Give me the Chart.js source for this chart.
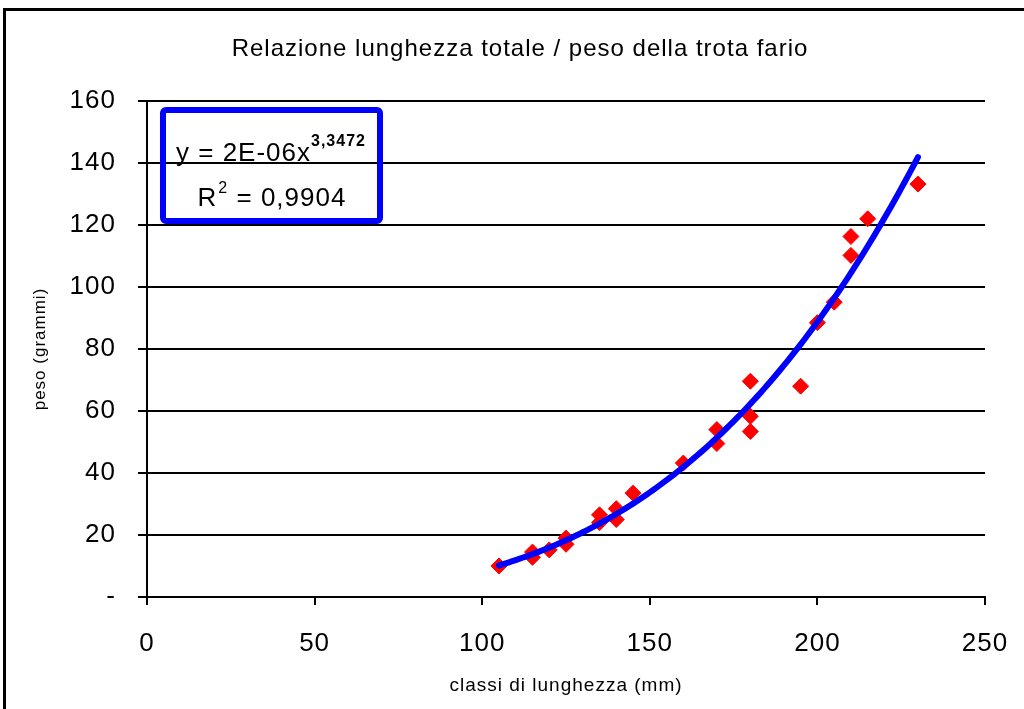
<!DOCTYPE html>
<html>
<head>
<meta charset="utf-8">
<script src="https://cdn.jsdelivr.net/npm/chart.js@4.4.1/dist/chart.umd.min.js"></script>
<style>
  html, body { margin: 0; padding: 0; background: #ffffff; }
  #wrap { position: relative; width: 1024px; height: 709px; overflow: hidden; }
  canvas { display: block; }
</style>
</head>
<body>
<div id="wrap"><canvas id="c" width="1024" height="709"></canvas></div>
<script>
// ---- Data ----
const chartTitle = 'Relazione lunghezza totale / peso della trota fario';
const xAxisTitle = 'classi di lunghezza (mm)';
const yAxisTitle = 'peso (grammi)';

const lengthsMm = [105, 115, 115, 120, 125, 125, 135, 135, 140, 140, 145, 160,
                   170, 170, 180, 180, 180, 195, 200, 205, 210, 210, 215, 230];
const weightsG  = [10, 14.5, 12.8, 15.2, 19, 17, 26.5, 24, 28.5, 25, 33.5, 43.2,
                   54, 49.5, 69.6, 58.3, 53.4, 68, 88.5, 95.1, 110.2, 116.3, 122, 133.2];

const xTickValues = [0, 50, 100, 150, 200, 250];
const yTickValues = [0, 20, 40, 60, 80, 100, 120, 140, 160];
const yZeroLabel = '-';

const equationMain = 'y = 2E-06x';
const equationExponent = '3,3472';
const rSquaredLabel = 'R';
const rSquaredExponent = '2';
const rSquaredValue = ' = 0,9904';

// ---- Power trendline (least squares on ln x / ln y, as the spreadsheet does) ----
function powerFit(xs, ys) {
  const n = xs.length;
  let sx = 0, sy = 0, sxx = 0, sxy = 0;
  for (let i = 0; i < n; i++) {
    const lx = Math.log(xs[i]), ly = Math.log(ys[i]);
    sx += lx; sy += ly; sxx += lx * lx; sxy += lx * ly;
  }
  const b = (n * sxy - sx * sy) / (n * sxx - sx * sx);
  const a = Math.exp((sy - b * sx) / n);
  return { a, b };
}
const fit = powerFit(lengthsMm, weightsG);
const xMin = Math.min(...lengthsMm), xMax = Math.max(...lengthsMm);
const trendPoints = [];
for (let x = xMin; x <= xMax; x += 1) trendPoints.push({ x, y: fit.a * Math.pow(x, fit.b) });

const scatterPoints = lengthsMm.map((x, i) => ({ x, y: weightsG[i] }));

const FONT = "'Liberation Sans', Arial, Helvetica, sans-serif";
Chart.defaults.font.family = FONT;
Chart.defaults.color = '#000000';

const spacingPlugin = {
  id: 'spacing',
  beforeLayout(chart) { chart.ctx.letterSpacing = '1px'; },
  beforeDraw(chart) { chart.ctx.letterSpacing = '1px'; }
};

const decorPlugin = {
  id: 'decor',
  afterDatasetsDraw(chart) {
    const ctx = chart.ctx;
    const ca = chart.chartArea;
    const bx = ca.left + 16, by = ca.top + 9, bw = 217, bh = 111;
    ctx.save();
    ctx.letterSpacing = '1px';
    ctx.strokeStyle = '#0000FF';
    ctx.lineWidth = 6;
    ctx.beginPath();
    if (ctx.roundRect) ctx.roundRect(bx, by, bw, bh, 3); else ctx.rect(bx, by, bw, bh);
    ctx.stroke();

    ctx.fillStyle = '#000000';
    ctx.textAlign = 'left';
    ctx.textBaseline = 'alphabetic';
    // line 1
    ctx.font = '26px ' + FONT;
    const x1 = bx + 13, y1 = by + 51;
    ctx.fillText(equationMain, x1, y1);
    const w1 = ctx.measureText(equationMain).width;
    ctx.font = 'bold 16px ' + FONT;
    ctx.fillText(equationExponent, x1 + w1, y1 - 15);
    // line 2
    ctx.font = '26px ' + FONT;
    const wR = ctx.measureText(rSquaredLabel).width;
    const wV = ctx.measureText(rSquaredValue).width;
    ctx.font = '16px ' + FONT;
    const wE = ctx.measureText(rSquaredExponent).width;
    const total = wR + wE + wV;
    const x2 = bx + bw / 2 - total / 2, y2 = by + 96;
    ctx.font = '26px ' + FONT;
    ctx.fillText(rSquaredLabel, x2, y2);
    ctx.font = '16px ' + FONT;
    ctx.fillText(rSquaredExponent, x2 + wR + 1, y2 - 13);
    ctx.font = '26px ' + FONT;
    ctx.fillText(rSquaredValue, x2 + wR + wE + 1, y2);
    ctx.restore();
  },
  afterDraw(chart) {
    const ctx = chart.ctx;
    ctx.save();
    ctx.letterSpacing = '1px';
    // chart title
    ctx.fillStyle = '#000000';
    ctx.font = '24px ' + FONT;
    ctx.textAlign = 'center';
    ctx.textBaseline = 'middle';
    ctx.fillText(chartTitle, 520, 49);
    // outer frame of the chart object
    ctx.strokeStyle = '#000000';
    ctx.lineWidth = 3;
    ctx.strokeRect(4.5, 9.5, 1040, 720);
    ctx.restore();
  }
};

new Chart(document.getElementById('c'), {
  type: 'scatter',
  data: {
    datasets: [
      {
        label: 'Potenza',
        data: trendPoints,
        showLine: true,
        borderColor: '#0000FF',
        borderWidth: 6,
        borderCapStyle: 'round',
        borderJoinStyle: 'round',
        pointRadius: 0,
        pointHoverRadius: 0,
        tension: 0,
        fill: false,
        order: 0
      },
      {
        label: 'peso',
        data: scatterPoints,
        showLine: false,
        pointStyle: 'rectRot',
        pointRadius: 8,
        pointHoverRadius: 8,
        backgroundColor: '#FF0000',
        borderColor: '#FF0000',
        borderWidth: 1,
        order: 1
      }
    ]
  },
  options: {
    responsive: false,
    animation: false,
    devicePixelRatio: 1,
    layout: { padding: { top: 101, left: 0, right: 39, bottom: 0 } },
    plugins: {
      legend: { display: false },
      tooltip: { enabled: false },
      title: { display: false }
    },
    scales: {
      x: {
        type: 'linear',
        min: 0,
        max: 250,
        afterBuildTicks: (s) => { s.ticks = xTickValues.map(v => ({ value: v })); },
        afterFit: (s) => { s.height = 112; s.paddingLeft = 0; s.paddingRight = 0; },
        ticks: { font: { size: 26 }, color: '#000000', padding: 23, maxRotation: 0, autoSkip: false },
        grid: { drawOnChartArea: false, drawTicks: true, tickLength: 8, color: '#000000', lineWidth: 2 },
        border: { display: true, color: '#000000', width: 2 },
        title: { display: true, text: xAxisTitle, font: { size: 19 }, color: '#000000', padding: { top: 0, bottom: 12 } }
      },
      y: {
        type: 'linear',
        min: 0,
        max: 160,
        afterBuildTicks: (s) => { s.ticks = yTickValues.map(v => ({ value: v })); },
        afterFit: (s) => { s.width = 147; },
        ticks: {
          font: { size: 26 }, color: '#000000', padding: 22,
          callback: (v) => (v === 0 ? yZeroLabel : String(v))
        },
        grid: { drawOnChartArea: true, drawTicks: true, tickLength: 9, color: '#000000', lineWidth: 2 },
        border: { display: true, color: '#000000', width: 2 },
        title: { display: true, text: yAxisTitle, font: { size: 17 }, color: '#000000', padding: { top: 30, bottom: 0 } }
      }
    }
  },
  plugins: [spacingPlugin, decorPlugin]
});
</script>
</body>
</html>
